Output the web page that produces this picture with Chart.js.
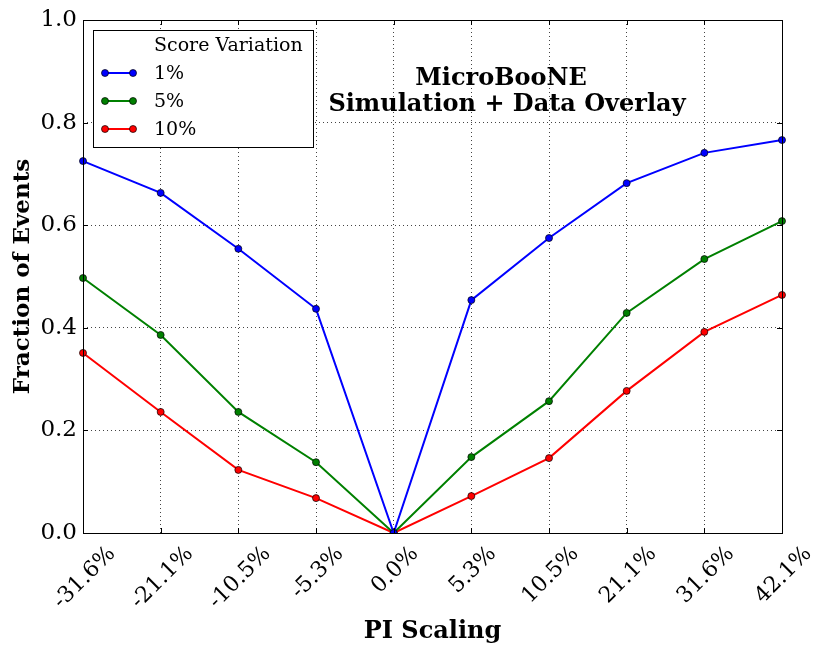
<!DOCTYPE html>
<html lang="en">
<head>
  <meta charset="UTF-8">
  <title>PI Scaling</title>
  <script src="https://cdn.jsdelivr.net/npm/chart.js"></script>
  <style>
    html, body { margin: 0; padding: 0; background: #fff; }
    #wrap { width: 815px; height: 646px; }
  </style>
</head>
<body>
  <div id="wrap"><canvas id="lineChart" width="815" height="646"></canvas></div>

  <script>
    const scalings = ["-31.6%", "-21.1%", "-10.5%", "-5.3%", "0.0%", "5.3%", "10.5%", "21.1%", "31.6%", "42.1%"];
    const var1 = [0.725, 0.663, 0.554, 0.437, 0.0, 0.454, 0.575, 0.682, 0.741, 0.766];
    const var5 = [0.497, 0.386, 0.236, 0.138, 0.0, 0.148, 0.257, 0.429, 0.534, 0.608];
    const var10 = [0.351, 0.236, 0.123, 0.068, 0.0, 0.072, 0.146, 0.277, 0.392, 0.464];
    const seriesNames = ["1%", "5%", "10%"];
    const colors = ["#0000ff", "#008000", "#ff0000"];

    const SERIF = "'DejaVu Serif', serif";
    const XTICK_SIZE = 22;

    // frame, inward ticks, centred 45° x labels, overlay text and legend box
    const decorations = {
      id: "decorations",
      afterDatasetsDraw(chart) {
        const { ctx, chartArea: a, scales } = chart;
        ctx.save();
        ctx.strokeStyle = "#000";
        ctx.lineWidth = 1;
        ctx.beginPath();
        scales.x.ticks.forEach((t, i) => {
          const x = Math.round(scales.x.getPixelForTick(i)) + 0.5;
          ctx.moveTo(x, a.bottom); ctx.lineTo(x, a.bottom - 5);
          ctx.moveTo(x, a.top); ctx.lineTo(x, a.top + 5);
        });
        scales.y.ticks.forEach((t, i) => {
          const y = Math.round(scales.y.getPixelForTick(i)) + 0.5;
          ctx.moveTo(a.left, y); ctx.lineTo(a.left + 5, y);
          ctx.moveTo(a.right, y); ctx.lineTo(a.right - 5, y);
        });
        ctx.stroke();
        ctx.strokeRect(a.left + 0.5, a.top + 0.5, a.right - a.left, a.bottom - a.top);

        // x tick labels, rotated and centred under each tick
        ctx.fillStyle = "#000";
        ctx.font = XTICK_SIZE + "px " + SERIF;
        ctx.textAlign = "center";
        ctx.textBaseline = "alphabetic";
        const cos45 = Math.SQRT1_2;
        scales.x.ticks.forEach((t, i) => {
          const label = scales.x.getLabelForValue(t.value);
          const w = ctx.measureText(label).width;
          const h = 0.75 * XTICK_SIZE;
          const cy = a.bottom + 10 + (w + h) * cos45 / 2;
          ctx.save();
          ctx.translate(scales.x.getPixelForTick(i), cy);
          ctx.rotate(-Math.PI / 4);
          ctx.fillText(label, 0, 0.365 * XTICK_SIZE);
          ctx.restore();
        });

        ctx.textAlign = "center";
        ctx.textBaseline = "middle";
        ctx.font = "bold 24px " + SERIF;
        ctx.fillText("MicroBooNE", a.left + 418, a.top + 59);
        ctx.fillText("Simulation + Data Overlay", a.left + 424, a.top + 85);

        // legend
        const lx = a.left + 10, ly = a.top + 10, lw = 220, lh = 117;
        ctx.fillStyle = "#fff";
        ctx.fillRect(lx, ly, lw, lh);
        ctx.strokeRect(lx + 0.5, ly + 0.5, lw, lh);
        ctx.fillStyle = "#000";
        ctx.textAlign = "left";
        ctx.font = "19px " + SERIF;
        ctx.fillText("Score Variation", lx + 61, ly + 16);
        chart.data.datasets.forEach((ds, i) => {
          const y = ly + 43 + i * 28;
          ctx.strokeStyle = ds.borderColor;
          ctx.lineWidth = 2;
          ctx.beginPath();
          ctx.moveTo(lx + 12, y); ctx.lineTo(lx + 40, y);
          ctx.stroke();
          [lx + 12, lx + 40].forEach(px => {
            ctx.beginPath();
            ctx.arc(px, y, 3.5, 0, Math.PI * 2);
            ctx.fillStyle = ds.borderColor;
            ctx.fill();
            ctx.lineWidth = 0.7;
            ctx.strokeStyle = "#000";
            ctx.stroke();
          });
          ctx.fillStyle = "#000";
          ctx.fillText(ds.label, lx + 61, y + 1);
        });
        ctx.restore();
      }
    };

    const makeSet = (label, data, color) => ({
      label,
      data,
      borderColor: color,
      backgroundColor: color,
      borderWidth: 2,
      pointRadius: 3.5,
      pointBorderColor: "#000",
      pointBorderWidth: 0.7,
      tension: 0
    });

    new Chart(document.getElementById("lineChart"), {
      type: "line",
      data: {
        labels: scalings,
        datasets: [
          makeSet(seriesNames[0], var1, colors[0]),
          makeSet(seriesNames[1], var5, colors[1]),
          makeSet(seriesNames[2], var10, colors[2])
        ]
      },
      options: {
        responsive: false,
        animation: false,
        layout: { padding: { top: 20, right: 33, left: 0, bottom: 0 } },
        plugins: {
          legend: { display: false },
          tooltip: { enabled: false }
        },
        scales: {
          x: {
            offset: false,
            grid: { color: "#444", lineWidth: 1, drawTicks: false },
            border: { display: false, dash: [1, 3] },
            ticks: { display: false, autoSkip: false },
            title: {
              display: true, text: "PI Scaling", color: "#000",
              font: { family: SERIF, size: 24, weight: "bold" }, padding: { top: 0, bottom: 0 }
            },
            afterFit(axis) { axis.height = 113; }
          },
          y: {
            min: 0, max: 1,
            grid: { color: "#444", lineWidth: 1, drawTicks: false },
            border: { display: false, dash: [1, 3] },
            ticks: {
              stepSize: 0.2, padding: 6, color: "#000",
              font: { family: SERIF, size: 23 },
              callback: v => v.toFixed(1)
            },
            title: {
              display: true, text: "Fraction of Events", color: "#000",
              font: { family: SERIF, size: 23, weight: "bold" }, padding: { top: 9, bottom: 4 }
            },
            afterFit(axis) { axis.width = 83; }
          }
        }
      },
      plugins: [decorations]
    });
  </script>
</body>
</html>
